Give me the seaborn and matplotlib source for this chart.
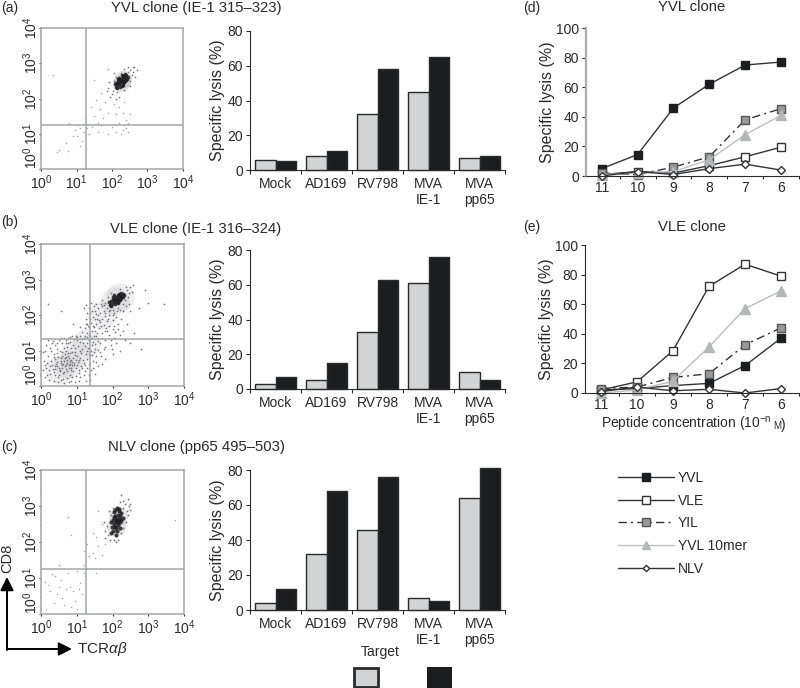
import numpy as np
import pandas as pd
import matplotlib
matplotlib.use('Agg')
import matplotlib.pyplot as plt
from matplotlib.patches import Rectangle
from matplotlib.ticker import FixedLocator, NullFormatter, FixedFormatter
import seaborn as sns

sns.set_theme(style='white')
plt.rcParams['font.family'] = ['Liberation Sans', 'DejaVu Sans']
plt.rcParams['mathtext.fontset'] = 'custom'
plt.rcParams['mathtext.rm'] = 'Liberation Sans'
plt.rcParams['mathtext.it'] = 'Liberation Sans:italic'
plt.rcParams['mathtext.default'] = 'regular'

targets = ['Mock', 'AD169', 'RV798', 'MVA\nIE-1', 'MVA\npp65']
a_grey = [6, 8, 32, 45, 7]
a_black = [5, 11, 58, 65, 8]
b_grey = [3, 5, 33, 61, 10]
b_black = [7, 15, 63, 76, 5]
c_grey = [4, 32, 46, 7, 64]
c_black = [12, 68, 76, 5, 81]

conc = ['11', '10', '9', '8', '7', '6']
peptides = ['YVL', 'VLE', 'YIL', 'YVL 10mer', 'NLV']
d_vals = [[5, 14.5, 46, 62, 75, 77],
          [1, 3, 2, 7, 13, 19.5],
          [2, 1, 6, 13, 38, 45.5],
          [1, 2, 3, 11, 28, 41],
          [0, 3, 1, 5, 8, 4]]
e_vals = [[2, 3, 5, 6.5, 18.5, 37],
          [2, 7.5, 28.5, 72, 87, 79],
          [3, 4, 10.5, 13, 32.5, 44],
          [0, 2, 8, 31, 57, 69],
          [1, 4, 1.5, 2.5, 0, 3]]

# flow events, log10 units
a_core = [(2.27,2.49),(2.2,2.42),(2.33,2.55),(2.15,2.38),(2.38,2.6),(2.25,2.56),(2.3,2.43),(2.18,2.5),(2.36,2.5),(2.12,2.45),
          (2.4,2.68),(2.22,2.34),(2.32,2.64),(2.1,2.32),(2.28,2.36),(2.42,2.56),(2.16,2.55),(2.24,2.46),(2.34,2.47),(2.3,2.6),
          (2.2,2.58),(2.44,2.62),(2.08,2.4),(2.26,2.52),(2.14,2.3),(2.36,2.7),(2.28,2.66),(2.19,2.44),(2.31,2.38),(2.39,2.53)]
a_halo = [(2.5,2.8),(2.02,2.22),(2.45,2.74),(2.55,2.66),(2.05,2.5),(2.0,2.12),(2.15,2.18),(2.6,2.75),(2.5,2.5),(1.9,2.3),
          (2.35,2.25),(2.1,2.62),(2.25,2.72),(1.95,2.05),(2.62,2.9),(2.2,2.05),(1.85,2.2),(2.5,2.35),(2.05,2.72),(2.66,2.6),
          (2.12,1.98),(2.35,2.85),(1.92,2.48),(2.7,2.82),(2.45,2.9)]
a_sparse = [(0.35,2.68),(1.5,2.52),(1.9,2.85),(2.6,2.9),(1.7,2.15),(1.55,1.95),(1.8,1.9),(2.05,1.85),(2.2,1.75),(2.35,1.9),
            (1.65,1.7),(1.4,1.75),(1.9,1.6),(2.1,1.55),(2.3,1.6),(1.75,1.45),(1.5,1.5),(1.25,1.45),(2.4,1.4),(2.45,1.3),
            (2.35,1.25),(2.4,1.15),(2.3,1.1),(2.45,1.05),(2.2,1.3),(2.0,1.2),(1.7,1.25),(1.45,1.2),(1.3,1.15),(1.2,1.28),
            (1.1,1.15),(1.05,1.25),(0.95,1.1),(1.2,1.05),(1.35,1.0),(1.6,1.05),(1.9,1.0),(2.1,1.05),(2.25,0.98),(0.8,1.3),
            (0.9,0.95),(1.15,0.8),(1.1,0.65),(0.7,0.75),(0.5,0.55),(0.75,0.5),(0.45,0.48),(1.0,0.95),(2.5,1.55),(1.6,1.3)]

b_core = [(2.12,2.43),(2.05,2.38),(2.2,2.5),(1.98,2.32),(2.25,2.55),(2.1,2.5),(2.16,2.38),(2.02,2.46),(2.22,2.44),(1.95,2.4),
          (2.3,2.6),(2.08,2.3),(2.18,2.56),(1.92,2.28),(2.14,2.33),(2.28,2.5),(2.0,2.52),(2.1,2.42),(2.2,2.42),(2.15,2.55),
          (2.05,2.55),(2.33,2.56),(1.9,2.36),(2.12,2.48),(1.97,2.25),(2.25,2.62),(2.17,2.6),(2.04,2.42),(2.13,2.38),(2.24,2.48)]
b_halo = [(2.4,2.7),(1.85,2.2),(2.45,2.62),(1.8,2.35),(2.35,2.42),(1.75,2.12),(2.0,2.15),(2.5,2.78),(1.7,2.25),(2.15,2.2),
          (2.38,2.78),(1.88,2.5),(1.65,2.05),(2.28,2.3),(1.6,2.2),(2.05,2.05),(1.78,1.98),(2.2,2.72),(1.55,2.02),(1.95,2.62),
          (2.55,2.65),(1.9,2.0),(1.5,2.12),(2.42,2.5),(1.72,2.42),(1.62,1.85),(2.1,1.95),(1.45,1.95),(2.58,2.85),(1.85,1.82),
          (1.35,2.2),(1.55,1.75),(2.0,1.85),(1.4,2.35),(1.3,2.05),(1.68,1.7),(1.25,1.9),(1.45,1.7),(1.9,1.7),(1.2,2.2)]
b_cloud = [(0.8,0.7),(0.7,0.6),(0.9,0.8),(0.6,0.5),(1.0,0.6),(0.75,0.85),(0.55,0.7),(0.85,0.5),(0.95,0.95),(0.65,0.4),
           (0.45,0.55),(1.1,0.8),(0.7,1.0),(0.35,0.4),(0.5,0.3),(0.8,0.3),(1.05,0.45),(1.2,0.65),(0.6,0.85),(0.4,0.75),
           (0.9,1.15),(1.15,1.05),(0.75,1.2),(1.25,0.9),(0.3,0.6),(0.25,0.35),(0.55,0.18),(0.85,0.15),(1.1,0.25),(1.3,0.5),
           (0.2,0.85),(0.45,1.05),(1.0,1.3),(1.3,1.2),(1.4,1.0),(0.65,1.35),(0.15,0.5),(0.1,0.25),(0.35,0.15),(1.35,0.3),
           (0.95,0.1),(1.45,0.7),(0.3,1.2),(0.08,0.7),(0.5,1.3),(1.2,1.35),(1.38,1.4),(1.45,1.25),(1.5,1.05),(1.55,0.85),
           (1.6,0.55),(1.5,0.35),(0.12,1.0),(0.2,1.3),(0.8,1.38),(0.98,1.42),(0.7,1.3),(1.1,1.4),(1.28,1.5),(1.42,1.55),
           (1.55,1.4),(1.7,1.35),(1.65,1.2),(1.8,1.3),(1.9,1.45),(2.05,1.35),(1.75,1.05),(1.95,1.15),(1.35,1.65),(1.5,1.55),
           (0.72,0.72),(0.82,0.62),(0.62,0.62),(0.88,0.68),(0.78,0.52),(0.68,0.78),(0.58,0.58),(0.92,0.58),(0.52,0.46),(0.98,0.72),
           (0.42,0.62),(0.72,0.42),(0.82,0.92),(1.02,0.85),(0.6,0.95),(0.38,0.48),(1.12,0.55),(0.48,0.82),(1.08,0.98),(0.9,0.42),
           (0.25,0.55),(1.3,0.75),(0.18,0.3),(1.25,0.15),(0.65,0.08),(1.18,1.2),(1.32,1.08),(0.35,0.9),(1.4,0.45),(1.22,0.42),
           (2.3,1.55),(2.6,1.5),(2.8,1.05),(3.0,2.35),(0.2,2.3),(0.55,2.1),(0.9,1.75),(1.1,1.65),(2.5,1.2),(2.15,1.6),
           (1.85,1.55),(2.1,1.2),(2.4,1.75),(2.0,0.9),(1.8,0.75),(1.65,0.95),(2.2,1.0),(2.9,2.7),(3.45,2.3),(2.75,2.2)]
b_fine = [(0.74,0.66),(0.84,0.74),(0.66,0.55),(0.77,0.58),(0.87,0.6),(0.63,0.71),(0.71,0.81),(0.79,0.78),(0.93,0.66),(0.57,0.64),
          (0.49,0.51),(0.54,0.42),(0.61,0.36),(0.69,0.48),(0.83,0.44),(0.97,0.5),(1.03,0.68),(1.07,0.74),(0.94,0.87),(0.86,0.96),
          (0.76,0.94),(0.66,0.9),(0.56,0.78),(0.46,0.68),(0.4,0.56),(0.33,0.47),(0.29,0.7),(0.37,0.82),(0.44,0.92),(0.53,1.0),
          (0.63,1.08),(0.73,1.1),(0.84,1.06),(0.96,1.06),(1.04,1.12),(1.12,0.92),(1.17,0.72),(1.15,0.5),(1.07,0.36),(0.98,0.28),
          (0.88,0.24),(0.74,0.22),(0.62,0.2),(0.47,0.24),(0.4,0.3),(0.22,0.46),(0.16,0.66),(0.27,0.98),(0.38,1.16),(0.58,1.2),
          (0.82,1.25),(0.92,1.32),(1.08,1.25),(1.22,1.12),(1.28,1.0),(1.36,0.88),(1.24,0.58),(1.33,0.62),(1.42,0.86),(1.48,0.95),
          (1.52,1.18),(1.44,1.34),(1.34,1.3),(1.24,1.42),(1.14,1.32),(1.02,1.38),(0.88,1.42),(0.76,1.34),(1.35,1.45),(1.47,1.42),
          (1.6,1.28),(1.58,1.5),(1.62,1.62),(1.48,1.66),(1.4,1.78),(1.52,1.88),(1.65,1.8),(1.75,1.72),(1.8,1.55),(1.72,1.5),
          (1.38,1.88),(1.3,1.75),(1.22,1.62),(1.16,1.52),(1.3,1.38),(1.42,1.15),(1.6,1.02),(1.68,0.85),(1.55,0.68),(1.45,0.5),
          (1.38,0.18),(1.2,0.3),(1.05,0.15),(0.78,0.1),(0.48,0.12),(0.22,0.18),(0.05,0.45),(0.1,0.6),(0.06,0.95),(0.14,1.15),
          (0.25,1.08),(0.34,1.28),(0.44,1.22),(0.56,1.34),(0.7,1.22),(1.9,2.1),(1.8,2.05),(1.7,1.9),(1.6,2.0),(1.75,2.28),
          (1.92,2.15),(2.02,2.0),(2.12,2.1),(2.2,2.15),(2.25,1.9),(2.3,2.1),(2.38,2.25),(2.0,1.6),(1.95,1.3),(2.15,1.75),
          (1.68,2.32),(1.55,2.3),(1.48,2.25),(1.38,2.05),(1.26,2.28),(1.32,1.7),(1.58,1.9),(1.42,2.1),(1.82,1.62),(1.88,1.88),
          (2.45,2.3),(2.5,2.1),(2.05,1.7),(2.22,1.45),(2.35,1.3),(1.98,1.05),(1.72,0.62),(1.8,1.1),(2.08,1.52),(1.25,1.75)]

c_core = [(2.13,2.61),(2.05,2.5),(2.2,2.72),(2.1,2.38),(2.18,2.85),(2.02,2.62),(2.22,2.55),(2.08,2.72),(2.15,2.48),(1.98,2.42),
          (2.25,2.8),(2.12,2.3),(2.05,2.82),(2.17,2.65),(2.1,2.55),(2.0,2.3),(2.28,2.68),(2.08,2.9),(2.2,2.4),(1.95,2.55),
          (2.14,2.75),(2.03,2.7),(2.24,2.62),(2.12,2.95),(2.06,2.42),(2.16,2.56),(2.09,2.64),(1.96,2.25),(2.19,2.92),(2.11,2.2)]
c_halo = [(2.3,2.95),(2.35,3.05),(1.88,2.2),(2.4,2.85),(1.85,2.45),(2.45,3.0),(1.92,2.05),(2.25,2.25),(2.3,3.15),(1.8,2.3),
          (2.05,2.05),(2.42,2.75),(2.2,3.1),(1.78,2.1),(2.38,2.55),(1.95,2.75),(2.15,2.05),(2.5,3.05),(2.3,2.4),(2.0,2.95),
          (1.9,2.85),(2.25,3.3),(1.75,2.55),(2.42,3.2),(2.1,2.0),(2.48,2.9)]
c_sparse = [(0.75,2.7),(0.85,2.2),(1.6,2.85),(1.45,2.25),(1.7,2.5),(1.55,2.15),(1.8,1.95),(1.6,1.9),(1.45,1.7),(1.3,1.95),
            (1.5,1.55),(1.7,1.65),(1.35,1.6),(1.2,1.75),(3.75,2.6),(1.55,1.15),
            (0.5,1.35),(0.1,0.9),(0.25,0.65),(0.4,1.05),(0.55,0.95),(0.7,0.7),(0.8,0.75),(0.9,0.65),(1.05,0.7),(1.1,0.85),
            (0.3,1.1),(0.45,0.55),(0.6,0.45),(0.85,0.2),(1.0,0.15),(0.95,0.35),(1.15,0.55),(0.35,0.3),(0.15,0.15),(0.65,0.25),
            (1.0,1.2),(0.75,1.15),(1.2,1.15),(0.2,0.8),(0.5,0.75),(1.2,1.35)]

# soft shading where the dots merge in the dense regions
a_dense = [(2.24,2.44),(2.32,2.54)]
b_dense = [(0.75,0.62),(0.95,0.9),(0.5,0.45),(1.25,1.2),(2.08,2.4),(2.2,2.5),(1.7,2.0)]
c_dense = [(2.1,2.45),(2.14,2.72)]

bar_grey = '#d1d3d4'
bar_black = '#1c1d20'
frame_grey = '#a3a5a8'
ink = '#2a2a2c'

fig = plt.figure(figsize=(8, 6.88), dpi=100)


def px_axes(l, t, r, b):
    return fig.add_axes([l / 800, 1 - b / 688, (r - l) / 800, (b - t) / 688])


def px_text(x, y, s, **kw):
    kw.setdefault('fontsize', 10)
    kw.setdefault('color', ink)
    kw.setdefault('va', 'center')
    return fig.text(x / 800, 1 - y / 688, s, **kw)


def flow_panel(box, vline, hline, groups):
    ax = px_axes(*box)
    for pts, size, col, alpha in groups:
        pts = np.array(pts)
        sns.scatterplot(x=10 ** pts[:, 0], y=10 ** pts[:, 1], s=size, color=col, alpha=alpha, linewidth=0, ax=ax, legend=False)
    ax.set_xscale('log')
    ax.set_yscale('log')
    ax.set_xlim(1, 1e4)
    ax.set_ylim(1, 1e4)
    ax.axvline(10 ** vline, color=frame_grey, lw=1.1)
    ax.axhline(10 ** hline, color=frame_grey, lw=1.1)
    dec = [1, 10, 100, 1000, 10000]
    ax.xaxis.set_major_locator(FixedLocator(dec))
    ax.yaxis.set_major_locator(FixedLocator(dec))
    ax.xaxis.set_major_formatter(FixedFormatter(['$10^{%d}$' % i for i in range(5)]))
    ax.yaxis.set_major_formatter(FixedFormatter(['$10^{%d}$' % i for i in range(5)]))
    ax.xaxis.set_minor_formatter(NullFormatter())
    ax.yaxis.set_minor_formatter(NullFormatter())
    ax.tick_params(axis='both', which='major', bottom=True, left=True, length=1.5, width=0.8, color=ink,
                   labelsize=10, labelcolor=ink, pad=1.5)
    ax.tick_params(axis='y', which='major', pad=-0.5)
    ax.tick_params(axis='both', which='minor', bottom=True, left=True, length=1, width=0.4, color='#777777')
    for lab in ax.get_yticklabels():
        lab.set_rotation(90)
        lab.set_va('center')
    ax.get_yticklabels()[0].set_va('bottom')
    for s in ax.spines.values():
        s.set_color(frame_grey)
        s.set_linewidth(1.1)
    return ax


def bar_panel(box, grey, black):
    ax = px_axes(*box)
    df = pd.DataFrame({'target': targets * 2, 'lysis': grey + black,
                       'group': ['g'] * 5 + ['b'] * 5})
    sns.barplot(data=df, x='target', y='lysis', hue='group', palette={'g': bar_grey, 'b': bar_black},
                width=0.82, gap=0, edgecolor=ink, linewidth=1, legend=False, ax=ax)
    ax.set_xlim(-0.5, 4.5)
    ax.set_ylim(0, 80)
    for p in ax.patches:
        p.set_clip_on(False)
    ax.set_yticks([0, 20, 40, 60, 80])
    ax.set_xticks(range(5))
    ax.set_xticklabels(targets, linespacing=1.2)
    ax.set_xticks(np.arange(-0.5, 5, 1), minor=True)
    ax.tick_params(axis='x', which='major', length=0, pad=5, labelsize=10, labelcolor=ink)
    ax.tick_params(axis='x', which='minor', bottom=True, length=3, width=0.8, color=ink)
    ax.tick_params(axis='y', left=True, length=3, width=0.8, color=ink, labelsize=10, labelcolor=ink, pad=2)
    ax.set_xlabel('')
    ax.set_ylabel('Specific lysis (%)', fontsize=11.5, color=ink, labelpad=2)
    sns.despine(ax=ax)
    ax.spines['left'].set_color(ink)
    ax.spines['bottom'].set_color(ink)
    ax.spines['left'].set_linewidth(0.8)
    ax.spines['bottom'].set_linewidth(0.8)
    return ax


line_styles = {
    'YVL': dict(color='#333335', linestyle='-', marker='s', markersize=6, markerfacecolor=bar_black, markeredgecolor=bar_black),
    'VLE': dict(color='#333335', linestyle='-', marker='s', markersize=6, markerfacecolor='white', markeredgecolor='#333335'),
    'YIL': dict(color='#333335', linestyle=(0, (6, 3, 1.5, 3)), marker='s', markersize=6, markerfacecolor='#98999b', markeredgecolor='#555557'),
    'YVL 10mer': dict(color='#bcbec0', linestyle='-', marker='^', markersize=7.5, markerfacecolor='#b4b6b8', markeredgecolor='#b4b6b8'),
    'NLV': dict(color='#333335', linestyle='-', marker='D', markersize=3.8, markerfacecolor='white', markeredgecolor='#333335'),
}


def line_panel(box, vals):
    ax = px_axes(*box)
    pos = np.arange(len(conc))
    for name, v in zip(peptides, vals):
        st = line_styles[name]
        sns.lineplot(x=pos, y=v, ax=ax, linewidth=1, markeredgewidth=1, clip_on=False, label=name, **st)
    ax.set_xlim(-0.44, 5.47)
    ax.set_ylim(0, 100)
    ax.set_yticks([0, 20, 40, 60, 80, 100])
    ax.set_xticks(pos)
    ax.set_xticklabels(conc)
    ax.set_xticks(np.arange(-0.5, 5.6, 1)[1:], minor=True)
    ax.tick_params(axis='x', which='major', length=0, pad=3.5, labelsize=10, labelcolor=ink)
    ax.tick_params(axis='x', which='minor', bottom=True, length=2.5, width=0.8, color=ink)
    ax.tick_params(axis='y', left=True, length=3, width=0.8, color=ink, labelsize=10, labelcolor=ink, pad=2)
    ax.set_ylabel('Specific lysis (%)', fontsize=11.5, color=ink, labelpad=1)
    ax.set_xlabel('')
    sns.despine(ax=ax)
    ax.spines['left'].set_color(ink)
    ax.spines['bottom'].set_color(ink)
    ax.spines['left'].set_linewidth(0.8)
    ax.spines['bottom'].set_linewidth(0.8)
    return ax


dark = '#1e1e20'
mid = '#6a6a6e'
light = '#a8a8ac'
flow_panel((41, 28, 183, 169), 1.255, 1.24,
           [(a_dense, 160, mid, 0.18), (a_sparse, 1.2, light, 1), (a_halo, 1.5, mid, 0.9), (a_core, 7, dark, 0.85)])
flow_panel((41, 244, 184, 386), 1.38, 1.33,
           [(b_dense, 420, mid, 0.11), (b_cloud, 1.5, mid, 0.9), (b_fine, 1.5, mid, 0.9), (b_halo, 1.5, mid, 0.95), (b_core, 7, dark, 0.85)])
flow_panel((41, 470, 184, 614), 1.25, 1.24,
           [(c_dense, 190, mid, 0.18), (c_sparse, 1.2, light, 1), (c_halo, 1.8, mid, 0.9), (c_core, 9, dark, 0.85)])

bar_panel((250, 31, 505, 170), a_grey, a_black)
bar_panel((250, 250, 505, 389), b_grey, b_black)
bar_panel((250, 470, 505, 610), c_grey, c_black)

ax_d = line_panel((586, 28, 799, 176), d_vals)
ax_d.get_legend().remove()
ax_d.spines['left'].set_color('#a9abae')
ax_d.spines['left'].set_linewidth(1.6)
ax_e = line_panel((585, 245, 799, 393), e_vals)
handles, labels = ax_e.get_legend_handles_labels()
ax_e.get_legend().remove()
leg = fig.legend(handles, labels, loc='upper left', bbox_to_anchor=(607 / 800, 1 - 460 / 688), frameon=False, fontsize=10,
                 handlelength=4, labelspacing=0.62, handletextpad=0.3, labelcolor=ink, borderpad=0.3)
for h in leg.legend_handles:
    h.set_markersize(h.get_markersize() * 0.85)

# titles and panel letters
px_text(1, 8, '(a)')
px_text(1, 222, '(b)')
px_text(1, 447, '(c)')
px_text(523, 8, '(d)')
px_text(523, 227, '(e)')
px_text(196, 8, 'YVL clone (IE-1 315\u2013323)', ha='center', fontsize=10.7)
px_text(196, 229, 'VLE clone (IE-1 316\u2013324)', ha='center', fontsize=10.7)
px_text(196, 447, 'NLV clone (pp65 495\u2013503)', ha='center', fontsize=10.7)
px_text(692, 7, 'YVL clone', ha='center', fontsize=10.7)
px_text(692, 227, 'VLE clone', ha='center', fontsize=10.7)

# axis label with the small-cap molar sign
lab = px_text(601, 425, 'Peptide concentration (10$^{-n}$', fontsize=10)
fig.canvas.draw()
bb = lab.get_window_extent()
px_text(bb.x1 + 2, 426, 'M', fontsize=7)
px_text(bb.x1 + 9, 425, ')', fontsize=10)

# target swatches
fig.add_artist(Rectangle((354 / 800, 1 - 687 / 688), 24 / 800, 19 / 688, transform=fig.transFigure,
                         facecolor=bar_grey, edgecolor=ink, lw=2))
fig.add_artist(Rectangle((427 / 800, 1 - 688 / 688), 25 / 800, 21 / 688, transform=fig.transFigure,
                         facecolor=bar_black, edgecolor=bar_black, lw=0))
px_text(380, 652, 'Target', ha='center')

# CD8 / TCR arrows
arrow = dict(arrowstyle='-|>', mutation_scale=20, lw=1.4, color='black', shrinkA=0, shrinkB=0)
fig.axes[0].annotate('', xy=(7 / 800, 1 - 577 / 688), xytext=(7 / 800, 1 - 650 / 688),
                     xycoords='figure fraction', textcoords='figure fraction', arrowprops=arrow, annotation_clip=False)
fig.axes[0].annotate('', xy=(72 / 800, 1 - 649 / 688), xytext=(7 / 800, 1 - 649 / 688),
                     xycoords='figure fraction', textcoords='figure fraction', arrowprops=arrow, annotation_clip=False)
px_text(7, 558, 'CD8', rotation=90, ha='center', fontsize=10.5)
px_text(77, 649, 'TCR$\\mathit{\u03b1\u03b2}$', fontsize=11)

fig.savefig('out.png', dpi=100, facecolor='white')
